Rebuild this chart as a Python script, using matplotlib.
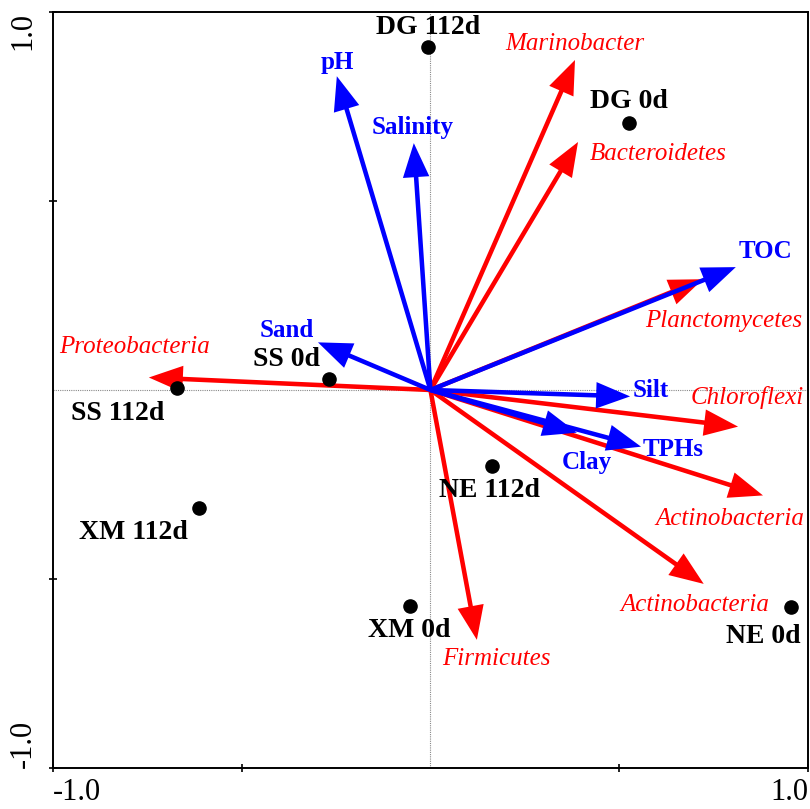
import matplotlib
matplotlib.use("Agg")
import matplotlib.pyplot as plt

plt.rcParams["font.family"] = ["Liberation Serif", "DejaVu Serif"]

# échantillons (scores des sites)
sample_names = ["DG 112d", "DG 0d", "SS 0d", "SS 112d", "XM 112d", "NE 112d", "XM 0d", "NE 0d"]
sample_x = [-0.007, 0.526, -0.269, -0.672, -0.613, 0.163, -0.054, 0.955]
sample_y = [0.907, 0.706, 0.030, 0.004, -0.311, -0.202, -0.571, -0.573]

# variables environnementales (flèches bleues)
env_names = ["pH", "Salinity", "TOC", "Sand", "Silt", "Clay", "TPHs"]
env_x = [-0.248, -0.044, 0.809, -0.298, 0.529, 0.388, 0.558]
env_y = [0.830, 0.653, 0.325, 0.126, -0.017, -0.113, -0.150]

# phylums (flèches rouges)
taxa_names = ["Marinobacter", "Bacteroidetes", "Planctomycetes", "Proteobacteria",
              "Chloroflexi", "Actinobacteria", "Actinobacteria", "Firmicutes"]
taxa_x = [0.383, 0.391, 0.722, -0.746, 0.815, 0.881, 0.724, 0.123]
taxa_y = [0.873, 0.656, 0.293, 0.033, -0.097, -0.279, -0.513, -0.661]

# décalages des étiquettes (pixels, +y vers le bas)
sample_off = [(0, -20), (0, -22), (-42, -19), (-59, 25), (-66, 25), (-2, 24), (-1, 25), (-28, 30)]
env_off = [(0, -14), (-1, -16), (30, -16), (-31, -12), (21, -6), (10, 30), (32, 3)]
taxa_off = [(0, -16), (80, 12), (21, 42), (-14, -31), (9, -29), (-33, 24), (-9, 21), (20, 19)]

RED = "#ff0000"
BLUE = "#0000ff"

fig = plt.figure(figsize=(8.1, 8.09), dpi=100)
ax = fig.add_axes([0.0654, 0.0507, 0.932, 0.9345])
ax.set_xlim(-1, 1)
ax.set_ylim(-1, 1)

# axes pointillés
ax.axhline(0, color="#888888", linestyle=(0, (1, 1)), linewidth=0.8, zorder=1)
ax.axvline(0, color="#888888", linestyle=(0, (1, 1)), linewidth=0.8, zorder=1)


def fleche(x, y, color):
    ax.arrow(0, 0, x, y, width=0.012, head_width=0.07, head_length=0.09,
             length_includes_head=True, color=color, linewidth=0, zorder=3)


def px(off):
    return (off[0] * 0.72, -off[1] * 0.72)


for x, y, name, off in zip(taxa_x, taxa_y, taxa_names, taxa_off):
    fleche(x, y, RED)
    ax.annotate(name, (x, y), xytext=px(off), textcoords="offset points",
                ha="center", va="center", color=RED, fontsize=18, fontstyle="italic", zorder=5)

for x, y, name, off in zip(env_x, env_y, env_names, env_off):
    fleche(x, y, BLUE)
    ax.annotate(name, (x, y), xytext=px(off), textcoords="offset points",
                ha="center", va="center", color=BLUE, fontsize=18, fontweight="bold", zorder=5)

ax.scatter(sample_x, sample_y, s=90, color="black", zorder=4)
for x, y, name, off in zip(sample_x, sample_y, sample_names, sample_off):
    ax.annotate(name, (x, y), xytext=px(off), textcoords="offset points",
                ha="center", va="center", color="black", fontsize=20, fontweight="bold", zorder=5)

# cadre et graduations
for s in ax.spines.values():
    s.set_linewidth(1.4)
ax.set_xticks([-1, -0.5, 0.5, 1])
ax.set_yticks([-1, -0.5, 0.5, 1])
ax.set_xticklabels(["-1.0", "", "", "1.0"], fontsize=22)
ax.set_yticklabels(["-1.0", "", "", "1.0"], fontsize=22, rotation=90)
ax.tick_params(direction="inout", length=6, width=1.2)
ax.tick_params(axis="x", pad=4)
ax.tick_params(axis="y", pad=8)
xl = ax.get_xticklabels()
xl[0].set_ha("left")
xl[-1].set_ha("right")
yl = ax.get_yticklabels()
yl[0].set_va("bottom")
yl[-1].set_va("top")

fig.savefig("out.png", dpi=100)
